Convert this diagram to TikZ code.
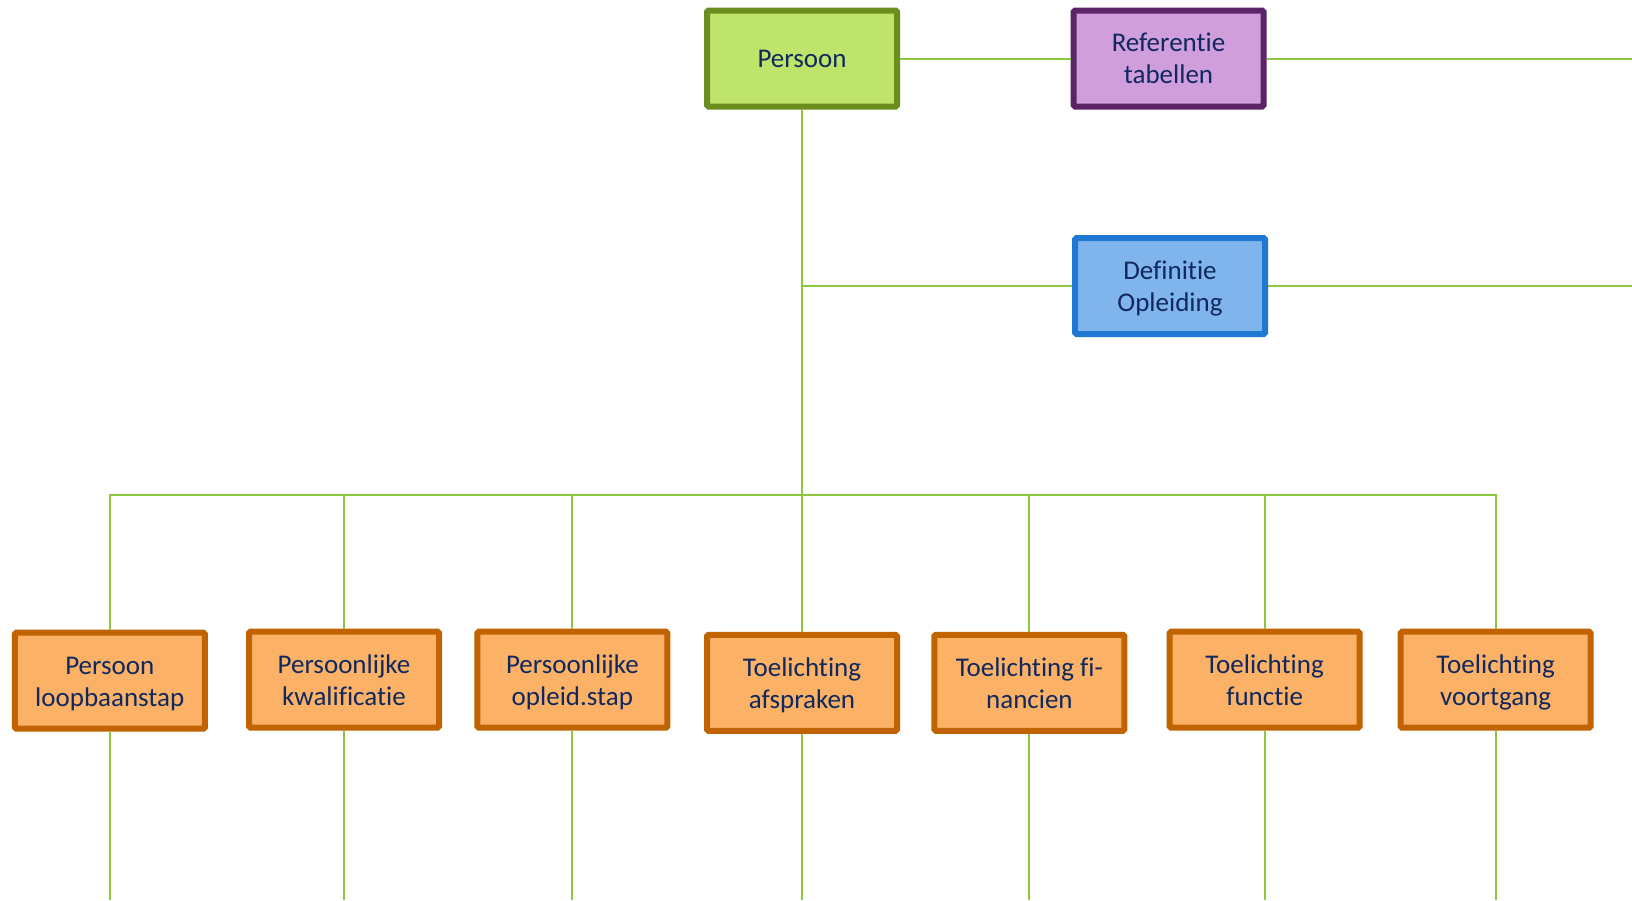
\documentclass[tikz,border=0pt]{standalone}
\usepackage{fontspec}
\setmainfont{Carlito}[Ligatures=NoCommon]
\definecolor{txt}{HTML}{10285E}
\definecolor{conn}{HTML}{8DC63F}
\definecolor{gfill}{HTML}{BFE46B}
\definecolor{gdraw}{HTML}{6B8E1E}
\definecolor{pfill}{HTML}{D19EDC}
\definecolor{pdraw}{HTML}{5B2466}
\definecolor{bfill}{HTML}{80B4EC}
\definecolor{bdraw}{HTML}{1F78D1}
\definecolor{ofill}{HTML}{FBB266}
\definecolor{odraw}{HTML}{C06300}
\newcommand\boxtxt[1]{\raisebox{-3pt}[\height][\depth]{\begin{tabular}{@{}c@{}}#1\end{tabular}}}
\tikzset{
  boxbase/.style={rectangle, rounded corners=1.5pt, line width=6pt,
    minimum width=190pt, minimum height=96pt, inner sep=0pt,
    align=center, text=txt,
    font=\fontsize{27pt}{32pt}\selectfont},
  greenbox/.style={boxbase, fill=gfill, draw=gdraw},
  purplebox/.style={boxbase, fill=pfill, draw=pdraw},
  bluebox/.style={boxbase, fill=bfill, draw=bdraw},
  orangebox/.style={boxbase, fill=ofill, draw=odraw},
  link/.style={draw=conn, line width=2pt}
}
\begin{document}
\begin{tikzpicture}[x=1pt,y=-1pt]
\useasboundingbox[fill=white] (0,0) rectangle (1632,900);
% upper nodes
\node[greenbox]  (P) at (802,58.5)    {\boxtxt{Persoon}};
\node[purplebox] (R) at (1168.5,58.5) {\boxtxt{Referentie\\tabellen}};
\node[bluebox]   (D) at (1170,286)    {\boxtxt{Definitie\\Opleiding}};
% lower nodes
\node[orangebox] (t1) at (109.8,680.7) {\boxtxt{Persoon\\loopbaanstap}};
\node[orangebox] (t2) at (344,679.7)   {\boxtxt{Persoonlijke\\kwalificatie}};
\node[orangebox] (t3) at (572.4,679.7) {\boxtxt{Persoonlijke\\opleid.stap}};
\node[orangebox] (t4) at (802,682.8)   {\boxtxt{Toelichting\\afspraken}};
\node[orangebox] (t5) at (1029.4,682.8){\boxtxt{Toelichting fi-\\nancien}};
\node[orangebox] (t6) at (1264.6,679.7){\boxtxt{Toelichting\\functie}};
\node[orangebox] (t7) at (1495.6,679.7){\boxtxt{Toelichting\\voortgang}};
% helper coordinates
\coordinate (bus) at (802,495.4);
\coordinate (dj)  at (802,286);
\coordinate (edgeR) at (1632,58.5);
\coordinate (edgeD) at (1632,286);
\coordinate (bottom) at (0,900);
% connectors
\draw[link] (P.east) -- (R.west);
\draw[link] (R.east) -- (edgeR);
\draw[link] (D.east) -- (edgeD);
\draw[link] (dj) -- (D.west);
\draw[link] (P.south) -- (t4.north);
\foreach \i in {1,2,3,5,6,7} {
  \draw[link] (t\i.north) |- (bus);
}
\foreach \i in {1,...,7} {
  \draw[link] (t\i.south) -- (t\i.south |- bottom);
}
\end{tikzpicture}
\end{document}
